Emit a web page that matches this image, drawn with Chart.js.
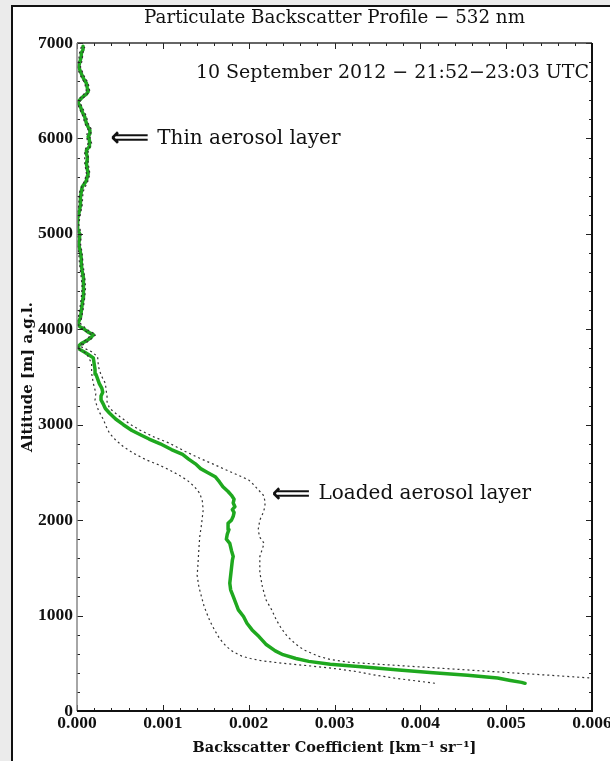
<!DOCTYPE html>
<html>
<head>
<meta charset="utf-8">
<script src="https://cdn.jsdelivr.net/npm/chart.js@4.4.1/dist/chart.umd.min.js"></script>
<style>
	html, body { margin: 0; padding: 0; background: #ebebeb; overflow: hidden; width: 610px; height: 761px; }
	#panel { position: absolute; left: 11px; top: 5px; width: 640px; height: 800px; background: #fff; border: 2px solid #111; }
	#chart01 { position: absolute; left: 0; top: 0; }
</style>
</head>
<body>
<div id="panel"></div>
<canvas id="chart01" width="610" height="761"></canvas>
<script>
// altitude [m] and backscatter [km-1 sr-1]
const meanAlt = [290, 300, 320, 345, 375, 400, 430, 460, 490, 520, 550, 590, 630, 700, 780, 850, 920, 990, 1060, 1130, 1200, 1270, 1340, 1420, 1500, 1580, 1620, 1680, 1757, 1800, 1850, 1900, 1967, 2000, 2040, 2080, 2110, 2141, 2180, 2220, 2260, 2300, 2350, 2400, 2455, 2500, 2540, 2590, 2640, 2690, 2740, 2800, 2850, 2890, 2940, 3000, 3060, 3120, 3170, 3210, 3260, 3300, 3340, 3380, 3430, 3480, 3530, 3580, 3640, 3700, 3730, 3760, 3790, 3820, 3850, 3880, 3910, 3944, 3970, 3997, 4030, 4060, 4120, 4190, 4260, 4331, 4380, 4436, 4490, 4542, 4610, 4682, 4740, 4805, 4850, 4893, 4950, 5000, 5050, 5104, 5160, 5209, 5250, 5300, 5384, 5440, 5490, 5530, 5560, 5600, 5630, 5680, 5736, 5780, 5806, 5840, 5876, 5910, 5946, 5980, 6017, 6050, 6087, 6120, 6157, 6190, 6227, 6280, 6333, 6360, 6385, 6410, 6438, 6465, 6491, 6530, 6579, 6620, 6660, 6700, 6754, 6790, 6824, 6860, 6895, 6930, 6965];
const meanBeta = [0.00522, 0.00518, 0.00505, 0.0049, 0.00455, 0.00415, 0.00375, 0.00335, 0.00295, 0.0027, 0.00255, 0.0024, 0.00231, 0.0022, 0.00212, 0.00204, 0.00198, 0.00194, 0.00188, 0.00185, 0.00182, 0.00179, 0.00178, 0.00179, 0.0018, 0.00181, 0.00182, 0.0018, 0.00178, 0.00174, 0.00175, 0.00177, 0.00176, 0.0018, 0.00182, 0.00183, 0.00181, 0.00184, 0.00182, 0.00183, 0.0018, 0.00176, 0.0017, 0.00166, 0.00161, 0.00152, 0.00144, 0.00138, 0.0013, 0.00123, 0.0011, 0.00097, 0.00084, 0.00075, 0.00064, 0.00054, 0.00045, 0.00038, 0.00033, 0.00031, 0.00028, 0.00028, 0.0003, 0.00029, 0.00026, 0.00024, 0.00022, 0.00021, 0.0002, 0.00019, 0.00014, 0.00009, 0.00003, 0.00001, 0.00005, 0.00011, 0.00016, 0.00019, 0.00013, 0.00009, 0.00003, 0.00001, 0.00004, 0.00005, 0.00006, 0.00007, 0.00008, 0.00008, 0.00007, 0.00007, 0.00006, 0.00005, 0.00005, 0.00004, 0.00003, 0.00002, 0.00003, 0.00003, 0.00001, 0.000005, 0.00001, 0.00002, 0.00003, 0.00004, 0.00004, 0.00005, 0.00006, 0.00009, 0.00011, 0.00012, 0.00013, 0.00012, 0.00011, 0.00012, 0.00012, 0.00011, 0.00011, 0.00014, 0.00015, 0.00014, 0.00013, 0.00015, 0.00015, 0.00013, 0.00011, 0.0001, 0.00009, 0.00006, 0.00004, 0.00002, 0.00001, 0.00004, 0.00007, 0.00011, 0.00013, 0.00012, 0.00011, 0.00008, 0.00006, 0.00004, 0.00002, 0.00003, 0.00004, 0.00005, 0.00005, 0.00007, 0.00007];

const upperAlt = [335, 345, 375, 404, 430, 456, 485, 510, 540, 572, 610, 642, 700, 782, 866, 958, 1058, 1168, 1303, 1450, 1617, 1700, 1757, 1820, 1897, 2001, 2080, 2141, 2200, 2263, 2320, 2370, 2421, 2470, 2525, 2590, 2648, 2720, 2805, 2870, 2945, 3010, 3084, 3171, 3240, 3294, 3360, 3434, 3520, 3608, 3713, 3765, 3820, 3880, 3944, 3997, 4060, 4200, 4330, 4440, 4540, 4680, 4800, 4900, 5000, 5100, 5210, 5300, 5440, 5560, 5630, 5740, 5870, 5950, 6020, 6090, 6160, 6230, 6330, 6385, 6440, 6490, 6580, 6660, 6750, 6820, 6900, 6960];
const upperBeta = [0.0062, 0.006, 0.0055, 0.005, 0.00455, 0.0041, 0.0036, 0.00318, 0.00295, 0.00282, 0.00272, 0.00264, 0.00255, 0.00245, 0.00238, 0.00232, 0.00227, 0.0022, 0.00216, 0.00213, 0.00213, 0.00216, 0.00218, 0.00213, 0.00211, 0.00213, 0.00217, 0.00219, 0.00219, 0.00217, 0.00211, 0.00206, 0.002, 0.00188, 0.00174, 0.00158, 0.00143, 0.00126, 0.00108, 0.0009, 0.00073, 0.00061, 0.0005, 0.00038, 0.00035, 0.00035, 0.00034, 0.00033, 0.00028, 0.00025, 0.00024, 0.00017, 0.00004, 0.00014, 0.00022, 0.00012, 0.00004, 0.00007, 0.00009, 0.0001, 0.00009, 0.00007, 0.00006, 0.00004, 0.00005, 0.00002, 0.00004, 0.00006, 0.00007, 0.00013, 0.00015, 0.00013, 0.00013, 0.00017, 0.00015, 0.00017, 0.00013, 0.00011, 0.00006, 0.00003, 0.00009, 0.00015, 0.00013, 0.00008, 0.00004, 0.00006, 0.00007, 0.00009];

const lowerAlt = [291, 310, 344, 380, 414, 445, 474, 500, 526, 550, 575, 620, 677, 760, 853, 940, 1028, 1100, 1198, 1300, 1420, 1548, 1700, 1827, 1950, 2106, 2200, 2281, 2350, 2421, 2470, 2525, 2580, 2630, 2700, 2770, 2840, 2910, 2980, 3049, 3150, 3259, 3329, 3434, 3540, 3643, 3748, 3800, 3880, 3944, 3997, 4060, 4200, 4330, 4440, 4540, 4680, 4800, 4900, 5000, 5100, 5210, 5300, 5440, 5560, 5630, 5740, 5870, 5950, 6020, 6090, 6160, 6230, 6330, 6385, 6440, 6490, 6580, 6660, 6750, 6820, 6900, 6960];
const lowerBeta = [0.00417, 0.004, 0.0037, 0.00345, 0.00325, 0.003, 0.0027, 0.0024, 0.00215, 0.00202, 0.00192, 0.00182, 0.00174, 0.00166, 0.0016, 0.00155, 0.00151, 0.00148, 0.00145, 0.00142, 0.0014, 0.00141, 0.00142, 0.00143, 0.00145, 0.00147, 0.00146, 0.00143, 0.00137, 0.00128, 0.00119, 0.00108, 0.00095, 0.00081, 0.00066, 0.00054, 0.00045, 0.00038, 0.00034, 0.00031, 0.00025, 0.00021, 0.00022, 0.00019, 0.00017, 0.00017, 0.00011, 0.0, 0.00009, 0.00017, 0.00007, 0.0, 0.00003, 0.00005, 0.00006, 0.00005, 0.00003, 0.00002, 0.0, 0.00001, 0.0, 0.0, 0.00002, 0.00003, 0.00009, 0.00011, 0.00009, 0.00009, 0.00013, 0.00011, 0.00013, 0.00009, 0.00007, 0.00002, 0.0, 0.00005, 0.00011, 0.00009, 0.00004, 0.0, 0.00002, 0.00003, 0.00005];

const xTicks = [0, 0.001, 0.002, 0.003, 0.004, 0.005, 0.006];
const yTicks = [0, 1000, 2000, 3000, 4000, 5000, 6000, 7000];

const notes = [
	{ x: 0.00039, y: 6000, text: "Thin aerosol layer" },
	{ x: 0.00227, y: 2274, text: "Loaded aerosol layer" },
];

const serif = "'DejaVu Serif', serif";
const tickSerif = "'Liberation Serif', 'Times New Roman', serif";
const ink = "#111";

const toPoints = (alt, beta) => alt.map((a, i) => ({ x: beta[i], y: a }));

// inward major/minor ticks on all four sides plus the frame, like the original
const frameTicks = {
	id: "frameTicks",
	afterDatasetsDraw(chart) {
		const { ctx, chartArea: a, scales } = chart;
		ctx.save();
		ctx.strokeStyle = "#222";
		ctx.lineWidth = 1;
		const xs = scales.x;
		const ys = scales.y;
		xTicks.forEach((t, i) => {
			for (let k = 0; k < 5; k++) {
				if (i === xTicks.length - 1 && k > 0) break;
				const v = t + (k * (xTicks[1] - xTicks[0])) / 5;
				const px = Math.round(xs.getPixelForValue(v)) + 0.5;
				const len = k === 0 ? 6 : 3;
				ctx.beginPath();
				ctx.moveTo(px, a.bottom);
				ctx.lineTo(px, a.bottom - len);
				ctx.moveTo(px, a.top);
				ctx.lineTo(px, a.top + len);
				ctx.stroke();
			}
		});
		yTicks.forEach((t, i) => {
			for (let k = 0; k < 5; k++) {
				if (i === yTicks.length - 1 && k > 0) break;
				const v = t + (k * (yTicks[1] - yTicks[0])) / 5;
				const py = Math.round(ys.getPixelForValue(v)) + 0.5;
				const len = k === 0 ? 6 : 3;
				ctx.beginPath();
				ctx.moveTo(a.left, py);
				ctx.lineTo(a.left + len, py);
				ctx.moveTo(a.right, py);
				ctx.lineTo(a.right - len, py);
				ctx.stroke();
			}
		});
		ctx.lineWidth = 1.5;
		ctx.strokeStyle = "#333";
		ctx.beginPath();
		ctx.moveTo(a.left, a.top);
		ctx.lineTo(a.right, a.top);
		ctx.stroke();
		ctx.strokeStyle = "#888";
		ctx.beginPath();
		ctx.moveTo(a.left, a.top);
		ctx.lineTo(a.left, a.bottom);
		ctx.stroke();
		ctx.lineWidth = 2;
		ctx.strokeStyle = "#111";
		ctx.beginPath();
		ctx.moveTo(a.left, a.bottom);
		ctx.lineTo(a.right, a.bottom);
		ctx.lineTo(a.right, a.top);
		ctx.stroke();
		ctx.restore();
	},
};

const labels = {
	id: "labels",
	afterDraw(chart) {
		const { ctx, chartArea: a, scales } = chart;
		ctx.save();
		ctx.fillStyle = ink;
		ctx.textBaseline = "middle";
		ctx.textAlign = "center";
		ctx.font = "18.3px " + serif;
		ctx.fillText("Particulate Backscatter Profile \u2212 532 nm", (a.left + a.right) / 2, 18);
		ctx.font = "19px " + serif;
		ctx.textAlign = "right";
		ctx.fillText("10 September 2012 \u2212 21:52\u221223:03 UTC", a.right - 3, a.top + 30);
		notes.forEach((n) => {
			const px = scales.x.getPixelForValue(n.x);
			const py = scales.y.getPixelForValue(n.y);
			ctx.textAlign = "left";
			ctx.font = "bold 27px 'DejaVu Sans'";
			ctx.fillText("\u27F8", px, py + 1);
			const w = ctx.measureText("\u27F8").width;
			ctx.font = "20px " + serif;
			ctx.fillText(n.text, px + w + 8, py);
		});
		ctx.restore();
	},
};

const tickFont = { family: tickSerif, size: 17.5, weight: "bold" };

const data = {
	datasets: [
		{
			data: toPoints(lowerAlt, lowerBeta),
			borderColor: "#333",
			borderWidth: 1.2,
			borderDash: [2, 3],
			pointRadius: 0,
		},
		{
			data: toPoints(upperAlt, upperBeta),
			borderColor: "#333",
			borderWidth: 1.2,
			borderDash: [2, 3],
			pointRadius: 0,
		},
		{
			data: toPoints(meanAlt, meanBeta),
			borderColor: "#1fa81f",
			borderWidth: 3.5,
			pointRadius: 0,
			borderCapStyle: "round",
			borderJoinStyle: "round",
		},
	],
};

const options = {
	responsive: false,
	animation: false,
	showLine: true,
	layout: { padding: { top: 43, right: 18, bottom: 0, left: 0 } },
	plugins: {
		legend: { display: false },
		tooltip: { enabled: false },
		title: { display: false },
	},
	scales: {
		x: {
			type: "linear",
			min: 0,
			max: 0.006,
			grid: { display: false, drawTicks: false },
			border: { display: false },
			afterFit: (s) => {
				s.height = 50;
				s.paddingLeft = 0;
				s.paddingRight = 0;
			},
			afterBuildTicks: (s) => {
				s.ticks = xTicks.map((v) => ({ value: v }));
			},
			ticks: {
				callback: (v) => v.toFixed(3),
				font: tickFont,
				color: ink,
				padding: 2,
				maxRotation: 0,
				autoSkip: false,
			},
			title: {
				display: true,
				text: "Backscatter Coefficient [km\u207B\u00B9 sr\u207B\u00B9]",
				color: ink,
				font: { family: serif, size: 14.5, weight: "bold", lineHeight: 1.2 },
				padding: { top: 0, bottom: 4 },
			},
		},
		y: {
			type: "linear",
			min: 0,
			max: 7000,
			grid: { display: false, drawTicks: false },
			border: { display: false },
			afterFit: (s) => {
				s.width = 77;
				s.paddingTop = 0;
				s.paddingBottom = 0;
			},
			afterBuildTicks: (s) => {
				s.ticks = yTicks.map((v) => ({ value: v }));
			},
			ticks: {
				callback: (v) => String(v),
				font: tickFont,
				color: ink,
				padding: 4,
			},
			title: {
				display: true,
				text: "Altitude [m] a.g.l.",
				color: ink,
				font: { family: serif, size: 15, weight: "bold", lineHeight: 1.2 },
				padding: { top: 19, bottom: 0 },
			},
		},
	},
};

new Chart(document.querySelector("#chart01"), {
	type: "scatter",
	data,
	options,
	plugins: [frameTicks, labels],
});
</script>
</body>
</html>
